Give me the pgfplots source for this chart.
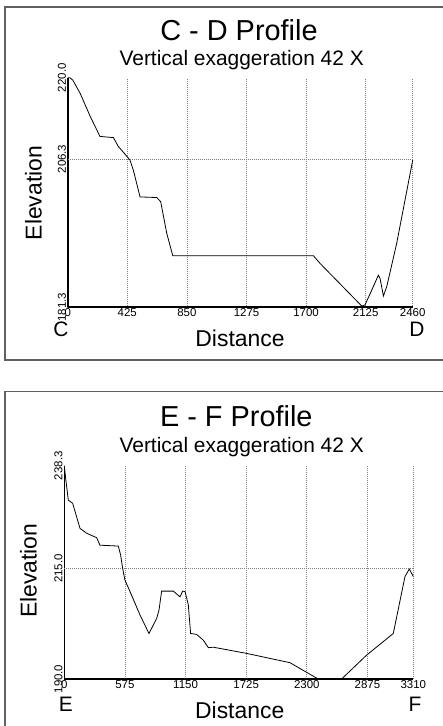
\documentclass[border=0pt]{standalone}
\usepackage{pgfplots}
\pgfplotsset{compat=1.18}
\usepackage{fontspec}
\setmainfont{Liberation Sans}

\pgfplotstableread{
x y
0 220.0
15 220.0
36 219.6
88 217.4
160 213.5
230 210.1
326 209.9
361 208.4
409 207.1
444 206.1
468 204.4
516 199.9
635 199.8
663 199.1
706 193.8
749 190.0
1752 190.0
1799 188.7
2097 181.5
2120 181.7
2168 184.2
2215 186.7
2227 186.2
2251 183.2
2275 184.8
2346 192.1
2460 206.1
}\cdtable

\pgfplotstableread{
x y
0 238.3
13 235.4
38 230.5
79 229.8
149 224.1
212 223.0
307 222.0
338 220.3
512 220.1
534 218.1
553 215.1
575 212.4
623 209.8
718 204.5
803 200.3
876 203.7
898 205.6
923 209.9
1034 209.9
1097 208.6
1123 209.9
1145 209.8
1176 206.8
1198 200.3
1255 200.1
1318 198.8
1366 197.1
1413 197.2
1729 195.8
1982 194.5
2140 193.7
2393 190.2
2409 190.0
2630 190.0
2867 195.4
3120 200.3
3231 213.2
3272 214.9
3310 213.2
}\eftable

\pgfplotsset{
  profile/.style={
    scale only axis,
    axis lines=left,
    axis line style={-, line width=1.6bp, black},
    major tick length=0pt,
    xmajorgrids=true,
    ymajorgrids=false,
    grid style={dash pattern=on 0.7bp off 1.3bp, gray, line width=0.7bp},
    /pgf/number format/assume math mode=true,
    tick label style={font=\fontsize{11.5}{11.5}\selectfont},
    xticklabel style={/pgf/number format/set thousands separator={}, inner sep=1.5bp},
    yticklabel style={rotate=90, anchor=south, inner sep=1.5bp,
      /pgf/number format/.cd, fixed, fixed zerofill, precision=1},
    extra y tick style={ymajorgrids=true},
    clip=false,
  }
}

\begin{document}
\begin{tikzpicture}[x=1bp,y=1bp]
\path[use as bounding box] (0,0) rectangle (443,726);
\draw[gray!75!black, line width=1.5bp] (5,366) rectangle (452,719);
\draw[gray!75!black, line width=1.5bp] (5,-20) rectangle (452,334.3);

\begin{axis}[profile,
  at={(67.7bp,418.7bp)}, anchor=south west,
  width=345bp, height=229.6bp,
  xmin=0, xmax=2460, ymin=181.3, ymax=220,
  xtick={0,425,850,1275,1700,2125,2460},
  ytick={181.3,220}, extra y ticks={206.3}]
\addplot[black, line width=0.8bp, no markers] table[x=x,y=y]{\cdtable};
\end{axis}

\begin{axis}[profile,
  at={(64.3bp,47bp)}, anchor=south west,
  width=349bp, height=213.3bp,
  xmin=0, xmax=3310, ymin=190, ymax=238.3,
  xtick={0,575,1150,1725,2300,2875,3310},
  ytick={190,238.3}, extra y ticks={215}]
\addplot[black, line width=0.8bp, no markers] table[x=x,y=y]{\eftable};
\end{axis}

% top panel texts
\node[anchor=base, font=\fontsize{29}{32}\selectfont] at (239,685.3) {C - D Profile};
\node[anchor=base, font=\fontsize{21}{24}\selectfont] at (241.7,660) {Vertical exaggeration 42 X};
\node[anchor=base, rotate=90, font=\fontsize{23}{26}\selectfont] at (41.7,533) {Elevation};
\node[anchor=base, font=\fontsize{23}{26}\selectfont] at (240,379.3) {Distance};
\node[anchor=base, font=\fontsize{21}{24}\selectfont] at (61,389.3) {C};
\node[anchor=base, font=\fontsize{21}{24}\selectfont] at (417,389.3) {D};

% bottom panel texts
\node[anchor=base, font=\fontsize{29}{32}\selectfont] at (236.3,299.3) {E - F Profile};
\node[anchor=base, font=\fontsize{21}{24}\selectfont] at (241.7,273.7) {Vertical exaggeration 42 X};
\node[anchor=base, rotate=90, font=\fontsize{23}{26}\selectfont] at (36.7,155.2) {Elevation};
\node[anchor=base, font=\fontsize{23}{26}\selectfont] at (239.7,7) {Distance};
\node[anchor=base, font=\fontsize{21}{24}\selectfont] at (65.8,14.3) {E};
\node[anchor=base, font=\fontsize{21}{24}\selectfont] at (415,14.3) {F};
\end{tikzpicture}
\end{document}
